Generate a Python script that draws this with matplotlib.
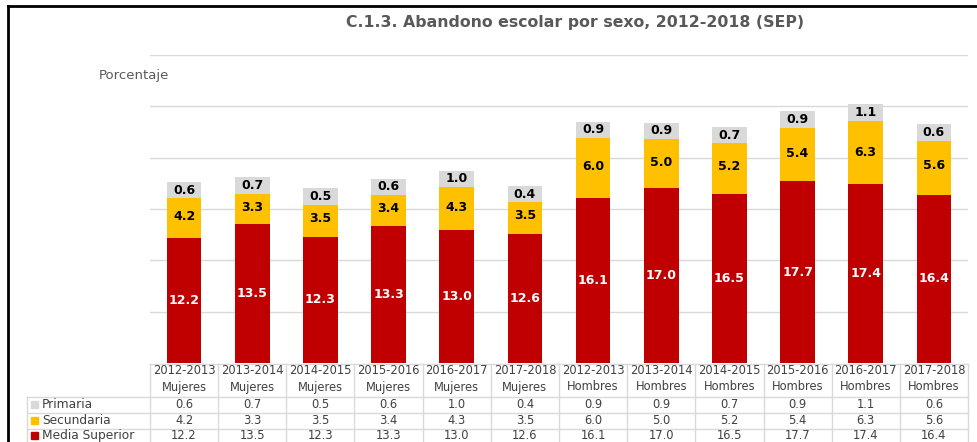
import matplotlib
matplotlib.use("Agg")
import matplotlib.pyplot as plt
from matplotlib.lines import Line2D
from matplotlib.patches import Rectangle
import matplotlib.transforms as mtransforms

periods = ["2012-2013", "2013-2014", "2014-2015", "2015-2016", "2016-2017", "2017-2018",
           "2012-2013", "2013-2014", "2014-2015", "2015-2016", "2016-2017", "2017-2018"]
sexes = ["Mujeres"] * 6 + ["Hombres"] * 6
series_names = ["Primaria", "Secundaria", "Media Superior"]
media_superior = [12.2, 13.5, 12.3, 13.3, 13.0, 12.6, 16.1, 17.0, 16.5, 17.7, 17.4, 16.4]
secundaria = [4.2, 3.3, 3.5, 3.4, 4.3, 3.5, 6.0, 5.0, 5.2, 5.4, 6.3, 5.6]
primaria = [0.6, 0.7, 0.5, 0.6, 1.0, 0.4, 0.9, 0.9, 0.7, 0.9, 1.1, 0.6]

RED, YEL, GRY = "#c00000", "#ffc000", "#d9d9d9"
TXT = "#404040"
W, H = 977, 442

fig = plt.figure(figsize=(W / 100, H / 100), dpi=100)
fig.patch.set_facecolor("white")

def fx(px):
    return px / W

def fy(py):
    return 1 - py / H

ax = fig.add_axes([fx(150), fy(363), fx(968) - fx(150), fy(55) - fy(363)])
x = list(range(len(periods)))
bw = 0.51
ax.bar(x, media_superior, bw, color=RED, zorder=3)
ax.bar(x, secundaria, bw, bottom=media_superior, color=YEL, zorder=3)
bot2 = [a + b for a, b in zip(media_superior, secundaria)]
ax.bar(x, primaria, bw, bottom=bot2, color=GRY, zorder=3)

for i in x:
    ax.text(i, media_superior[i] / 2, f"{media_superior[i]:.1f}", ha="center", va="center",
            color="white", fontsize=9, fontweight="bold", zorder=5)
    ax.text(i, media_superior[i] + secundaria[i] / 2, f"{secundaria[i]:.1f}", ha="center",
            va="center", color="black", fontsize=9, fontweight="bold", zorder=5)
    c = bot2[i] + primaria[i] / 2 + 0.15
    ax.add_patch(Rectangle((i - bw / 2, c - 0.8), bw, 1.6, facecolor=GRY, edgecolor="none", zorder=4))
    ax.text(i, c, f"{primaria[i]:.1f}", ha="center",
            va="center", color="black", fontsize=9, fontweight="bold", zorder=5)

ax.set_xlim(-0.5, len(periods) - 0.5)
ax.set_ylim(0, 30)
ax.set_yticks([5, 10, 15, 20, 25, 30])
ax.grid(axis="y", color="#d9d9d9", linewidth=1, zorder=0)
ax.tick_params(left=False, bottom=False, labelleft=False, labelbottom=False)
for s in ax.spines.values():
    s.set_visible(False)

# Title and axis label
fig.text(fx(575), fy(22), "C.1.3. Abandono escolar por sexo, 2012-2018 (SEP)", ha="center",
         va="center", fontsize=11.3, fontweight="bold", color="#595959")
fig.text(fx(99), fy(75), "Porcentaje", ha="left", va="center", fontsize=9.5, color="#595959")

# Data table
bt = mtransforms.blended_transform_factory(ax.transData, fig.transFigure)
lc = "#d9d9d9"
n = len(periods)
for ypx, x0 in [(364, None), (397, 27), (413, 27), (429, 27), (446, 27)]:
    xs = fx(150) if x0 is None else fx(x0)
    fig.add_artist(Line2D([xs, fx(968)], [fy(ypx), fy(ypx)], color=lc, lw=1))
for k in range(n + 1):
    fig.add_artist(Line2D([k - 0.5, k - 0.5], [fy(364), fy(446)], color=lc, lw=1, transform=bt))
fig.add_artist(Line2D([fx(27), fx(27)], [fy(397), fy(446)], color=lc, lw=1))

fs = 8.3
rows_y = [404.5, 420.5, 435.5]
for i in x:
    fig.text(i, fy(371), periods[i], transform=bt, ha="center", va="center", fontsize=fs, color=TXT)
    fig.text(i, fy(387), sexes[i], transform=bt, ha="center", va="center", fontsize=fs, color=TXT)
    for vals, ypx in zip([primaria, secundaria, media_superior], rows_y):
        fig.text(i, fy(ypx), f"{vals[i]:.1f}", transform=bt, ha="center", va="center",
                 fontsize=fs, color=TXT)

for name, col, ypx in zip(series_names, [GRY, YEL, RED], rows_y):
    fig.add_artist(Rectangle((fx(31), fy(ypx + 3.5)), fx(7), 7 / H, color=col, transform=fig.transFigure))
    fig.text(fx(42), fy(ypx), name, ha="left", va="center", fontsize=8.8, color=TXT)

# Screenshot frame
fig.add_artist(Line2D([fx(8), 1], [fy(6), fy(6)], color="black", lw=2))
fig.add_artist(Line2D([fx(8), fx(8)], [fy(6), 0], color="black", lw=2))

fig.savefig("out.png", dpi=100, facecolor="white")
